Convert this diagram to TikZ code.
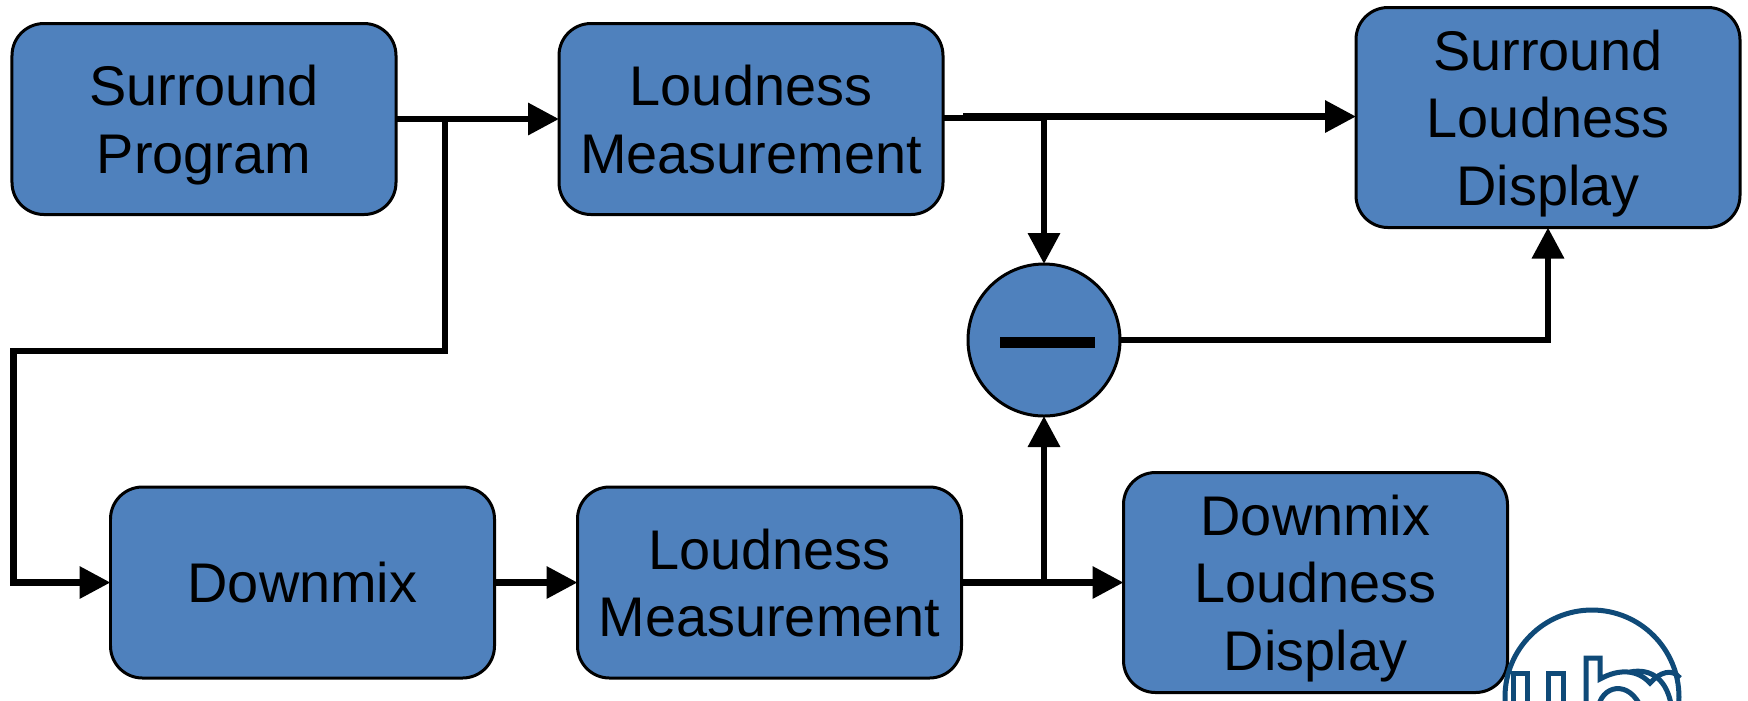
\documentclass[tikz,border=0pt]{standalone}
\usepackage{fontspec}
\setmainfont{Liberation Sans}
\usetikzlibrary{arrows.meta,positioning}
\definecolor{blockblue}{HTML}{4F81BD}
\definecolor{logoblue}{HTML}{0F4A78}
\tikzset{
  block/.style={draw=black,line width=0.03cm,fill=blockblue,rounded corners=0.32cm,
    minimum width=3.84cm,minimum height=1.91cm,align=center,inner sep=0pt,outer sep=0pt,
    text depth=-0.04cm,font=\fontsize{15.9pt}{19.2pt}\selectfont},
  tall/.style={block,minimum height=2.2cm},
  sum/.style={draw=black,line width=0.03cm,fill=blockblue,circle,minimum size=1.52cm,inner sep=0pt,outer sep=0pt},
  bar/.style={fill=black,minimum width=0.95cm,minimum height=0.11cm,inner sep=0pt},
  wire/.style={line width=0.065cm,-{Triangle[length=0.31cm,width=0.31cm]}},
  plain/.style={line width=0.065cm},
  logo/.style={draw=logoblue,line width=0.05cm}
}
\begin{document}
\begin{tikzpicture}
  \useasboundingbox (0,0) rectangle (17.48,-7);

  \node[block] (sp) at (2.04,-1.19) {Surround\\Program};
  \node[block] (lm1) [right=1.63cm of sp] {Loudness\\Measurement};
  \node[tall] (sld) at (15.48,-1.175) {Surround\\Loudness\\Display};
  \node[sum] (sub) at (10.44,-3.40) {};
  \node[bar] (minus) at (10.47,-3.42) {};
  \node[block] (dm) at (3.025,-5.825) {Downmix};
  \node[block] (lm2) [right=0.83cm of dm] {Loudness\\Measurement};
  \node[tall] (dld) at (13.155,-5.825) {Downmix\\Loudness\\Display};

  \coordinate (tapsp) at (4.45,-1.19);
  \coordinate (bendr) at (4.45,-3.51);
  \coordinate (bendl) at (0.135,-3.51);
  \coordinate (tap1) at (10.44,-1.18);
  \coordinate (start1) at (9.63,-1.165);
  \coordinate (tap2) at (10.44,-5.825);

  \draw[wire] (sp) -- (lm1);
  \draw[wire] (tapsp) -- (bendr) -- (bendl) |- (dm);
  \draw[plain] (lm1.east |- tap1) -- (tap1);
  \draw[wire] (start1) -- (start1 -| sld.west);
  \draw[wire] (tap1) -- (sub);
  \draw[wire] (sub) -| (sld);
  \draw[wire] (dm) -- (lm2);
  \draw[wire] (lm2) -- (dld);
  \draw[wire] (tap2) -- (sub);

  % logo, cut off by the page
  \begin{scope}
    \clip (0,0) rectangle (17.48,-7);
    \draw[logo] (15.92,-6.97) circle (0.87cm);
    \draw[logo] (15.13,-7.1) -- (15.13,-6.73) -- (15.27,-6.73) -- (15.27,-7.1);
    \draw[logo] (15.48,-7.1) -- (15.48,-6.73) -- (15.63,-6.73) -- (15.63,-7.1);
    \draw[logo] (15.86,-7.1) -- (15.86,-6.58) -- (16.0,-6.58) -- (16.0,-6.79)
      .. controls (16.2,-6.68) and (16.38,-6.7) .. (16.5,-6.83)
      .. controls (16.6,-6.72) and (16.72,-6.68) .. (16.8,-6.78);
    \draw[logo] (15.98,-7.1) .. controls (16.0,-6.85) and (16.3,-6.78) .. (16.42,-7.1);
    \draw[logo] (16.3,-6.72) .. controls (16.5,-6.68) and (16.68,-6.78) .. (16.72,-7.1);
  \end{scope}
\end{tikzpicture}
\end{document}
